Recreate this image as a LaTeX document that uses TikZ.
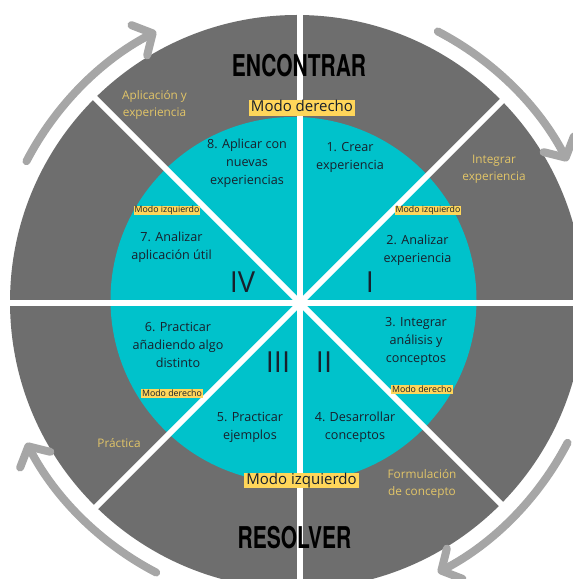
\documentclass[tikz,border=0pt]{standalone}
\usepackage{fontspec}
\setmainfont{Open Sans}
\newfontfamily\headfont{TeX Gyre Heros}
\usetikzlibrary{arrows.meta}
\definecolor{ringgray}{RGB}{110,110,110}
\definecolor{core}{RGB}{0,194,203}
\definecolor{mark}{RGB}{255,214,90}
\definecolor{ringtext}{RGB}{226,197,104}
\definecolor{ink}{RGB}{24,32,44}
\definecolor{cyclegray}{RGB}{166,166,166}
\newcommand\headword[1]{\scalebox{0.7}[1]{#1}}
\tikzset{
  stage/.style={align=center, text=ink, font=\fontsize{12.6}{18}\selectfont},
  phase/.style={align=center, text=ringtext, font=\fontsize{11.8}{16.5}\selectfont},
  quad/.style={text=ink, inner sep=0pt, font=\fontsize{29}{29}\selectfont},
  mode/.style={fill=mark, text=ink, inner xsep=2pt, inner ysep=0pt,
    text height=11.6pt, text depth=3.9pt, font=\fontsize{15}{15}\selectfont},
  minimode/.style={fill=mark, text=ink, inner xsep=1pt, inner ysep=0pt,
    text height=6.6pt, text depth=2.4pt, font=\fontsize{8.8}{9}\selectfont},
  title/.style={text=black, font=\headfont\bfseries\fontsize{30}{30}\selectfont},
  spoke/.style={draw=white, line width=6pt},
  cycle/.style={draw=cyclegray, line width=8pt, line cap=round,
    -{Straight Barb[length=15pt, width=34pt, line cap=round, line join=round]}}
}
\begin{document}
\begin{tikzpicture}[x=1pt, y=1pt]
  \useasboundingbox (0,0) rectangle (573,579);
  \coordinate (O) at (297,277);
  \coordinate (X) at (300,276);
  \fill[ringgray] (O) circle[radius=287];
  \fill[core] (293.5,279) circle[radius=183];
  \foreach \a in {0,45,90,135}
    \draw[spoke] (X) ++(\a:292) -- ++(\a+180:584);
  \foreach \a in {135,45,-45,-135}
    \draw[cycle] (O) ++(\a+17.5:305) arc[start angle=\a+17.5, end angle=\a-17.5, radius=305];

  \node[title] (find) at (299,513) {\headword{ENCONTRAR}};
  \node[title] (solve) at (294.5,41.5) {\headword{RESOLVER}};
  \node[mode] (right) at (302,471) {Modo derecho};
  \node[mode] (left) at (301.5,98.5) {Modo izquierdo};
  \node[minimode] (m8) at (167,368.5) {Modo izquierdo};
  \node[minimode] (m2) at (428,368.5) {Modo izquierdo};
  \node[minimode] (m6) at (172,185) {Modo derecho};
  \node[minimode] (m3) at (422,189) {Modo derecho};

  \node[stage] (s1) at (350,421.5) {1. Crear\\experiencia};
  \node[stage] (s2) at (417.5,329) {2. Analizar\\experiencia};
  \node[stage] (s3) at (416,238) {3. Integrar\\análisis y\\conceptos};
  \node[stage] (s4) at (355,152) {4. Desarrollar\\conceptos};
  \node[stage] (s5) at (250,152) {5. Practicar\\ejemplos};
  \node[stage] (s6) at (178,234) {6. Practicar\\añadiendo algo\\distinto};
  \node[stage] (s7) at (171.5,332) {7. Analizar\\aplicación útil};
  \node[stage] (s8) at (247,416) {8. Aplicar con\\nuevas\\experiencias};

  \node[quad] (q1) at (370,297) {I};
  \node[quad] (q2) at (324,216.5) {II};
  \node[quad] (q3) at (278,216.5) {III};
  \node[quad] (q4) at (242.5,297) {IV};

  \node[phase] (p1) at (494,410) {Integrar\\experiencia};
  \node[phase] (p2) at (422,95) {Formulación\\de concepto};
  \node[phase] (p3) at (119,136.3) {Práctica};
  \node[phase] (p4) at (154.5,474) {Aplicación y\\experiencia};
\end{tikzpicture}
\end{document}
